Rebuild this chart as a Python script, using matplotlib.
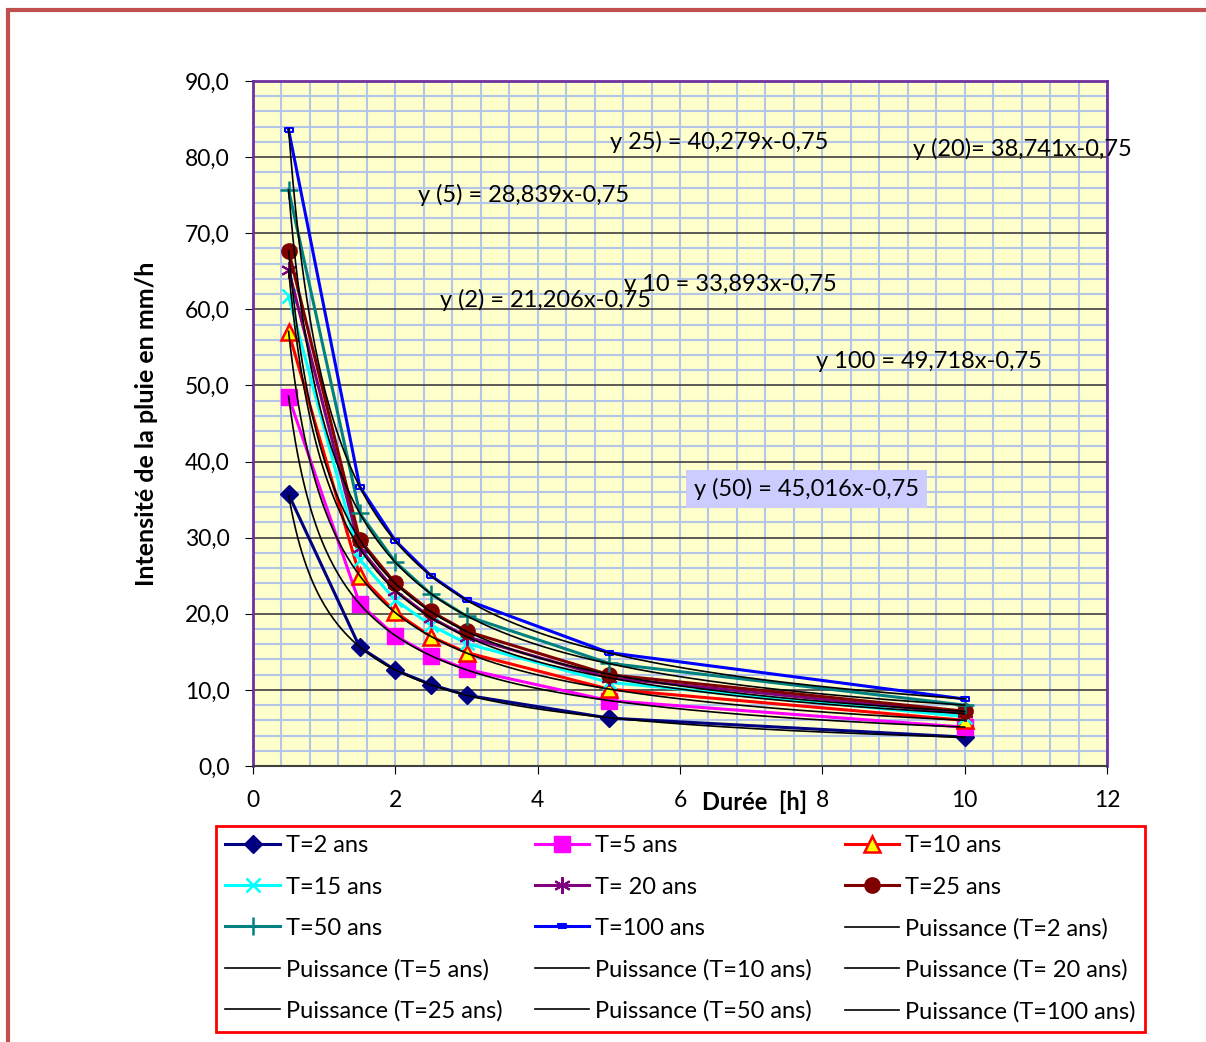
import numpy as np
import matplotlib.pyplot as plt
from matplotlib.patches import Rectangle
from matplotlib.path import Path
from matplotlib.ticker import MultipleLocator, FuncFormatter

plt.rcParams['font.family'] = ['Lato', 'DejaVu Sans']

# durations (h)
duree = [0.5, 1.5, 2, 2.5, 3, 5, 10]

# rain intensity (mm/h) per return period
T2 = [35.7, 15.6, 12.6, 10.7, 9.3, 6.3, 3.8]
T5 = [48.5, 21.3, 17.1, 14.5, 12.7, 8.6, 5.1]
T10 = [57.0, 25.0, 20.2, 17.0, 14.9, 10.1, 6.0]
T15 = [61.7, 27.1, 21.8, 18.5, 16.1, 11.0, 6.5]
T20 = [65.2, 28.6, 23.0, 19.5, 17.0, 11.6, 6.9]
T25 = [67.7, 29.7, 24.0, 20.3, 17.7, 12.0, 7.2]
T50 = [75.7, 33.2, 26.8, 22.6, 19.7, 13.5, 8.0]
T100 = [83.6, 36.7, 29.6, 25.0, 21.8, 14.9, 8.8]

labels = ['T=2 ans', 'T=5 ans', 'T=10 ans', 'T=15 ans', 'T= 20 ans',
          'T=25 ans', 'T=50 ans', 'T=100 ans']
fit_labels = ['Puissance (T=2 ans)', 'Puissance (T=5 ans)', 'Puissance (T=10 ans)',
              'Puissance (T= 20 ans)', 'Puissance (T=25 ans)', 'Puissance (T=50 ans)',
              'Puissance (T=100 ans)']

equations = ['y 25) = 40,279x-0,75', 'y (20)= 38,741x-0,75', 'y (5) = 28,839x-0,75',
             'y 10 = 33,893x-0,75', 'y (2) = 21,206x-0,75', 'y 100 = 49,718x-0,75',
             'y (50) = 45,016x-0,75']
eq_pos = [(5.02, 82.0), (9.27, 81.1), (2.32, 75.0), (5.21, 63.3), (2.63, 61.2),
          (7.91, 53.1), (6.2, 36.4)]

series = [T2, T5, T10, T15, T20, T25, T50, T100]
fit_series = [T2, T5, T10, T20, T25, T50, T100]

rect_marker = Path([(-1, -0.55), (1, -0.55), (1, 0.55), (-1, 0.55), (-1, -0.55)])
styles = [
    dict(color='#000080', marker='D', ms=9, mfc='#000080', mec='#000080'),
    dict(color='#FF00FF', marker='s', ms=11, mfc='#FF00FF', mec='#FF00FF'),
    dict(color='#FF0000', marker='^', ms=11, mfc='#FFFF00', mec='#FF0000', mew=1.8),
    dict(color='#00FFFF', marker='x', ms=10, mec='#00FFFF', mew=1.8),
    dict(color='#800080', marker=(6, 2, 0), ms=12, mec='#800080', mew=1.5),
    dict(color='#800000', marker='o', ms=11, mfc='#800000', mec='#800000'),
    dict(color='#008080', marker='+', ms=13, mec='#008080', mew=1.8),
    dict(color='#0000FF', marker=rect_marker, ms=6, mfc='none', mec='#0000FF', mew=1.5),
]

fig = plt.figure(figsize=(12.06, 10.42), dpi=100)
ax = fig.add_axes([253 / 1206, 1 - 766 / 1042, (1107 - 253) / 1206, (766 - 81) / 1042])
ax.set_facecolor('#FFFFCC')

handles = []
for s, lab, st in zip(series, labels, styles):
    h, = ax.plot(duree, s, lw=2.2, label=lab, zorder=3, **st)
    handles.append(h)

# power trendlines
xx = np.linspace(min(duree), max(duree), 300)
fit_handles = []
for s, lab in zip(fit_series, fit_labels):
    b, a = np.polyfit(np.log(duree), np.log(s), 1)
    h, = ax.plot(xx, np.exp(a) * xx ** b, color='black', lw=1.2, label=lab, zorder=4)
    fit_handles.append(h)

for txt, (x, y) in zip(equations, eq_pos):
    if txt.startswith('y (50)'):
        ax.text(x, y, txt, fontsize=17, va='center', ha='left', zorder=6,
                bbox=dict(boxstyle='square,pad=0.35', fc='#CCCCFF', ec='none'))
    else:
        ax.text(x, y, txt, fontsize=17, va='center', ha='left', zorder=6)

ax.set_xlim(0, 12)
ax.set_ylim(0, 90)
ax.xaxis.set_major_locator(MultipleLocator(2))
ax.xaxis.set_minor_locator(MultipleLocator(0.4))
ax.yaxis.set_major_locator(MultipleLocator(10))
ax.yaxis.set_minor_locator(MultipleLocator(2))
ax.yaxis.set_major_formatter(FuncFormatter(lambda v, p: ('%.1f' % v).replace('.', ',')))
ax.grid(which='minor', color='#B4C6E7', lw=1.5, zorder=0)
ax.grid(which='major', axis='x', color='#B4C6E7', lw=1.5, zorder=0)
ax.grid(which='major', axis='y', color='#404040', lw=1.2, zorder=1)
ax.set_axisbelow(True)
ax.tick_params(which='minor', length=0)
ax.tick_params(which='major', length=6, labelsize=16.5, direction='out')
ax.tick_params(axis='y', pad=11)
ax.tick_params(axis='x', pad=11)
for side in ['top', 'right', 'left']:
    ax.spines[side].set_color('#7030A0')
    ax.spines[side].set_linewidth(2)
ax.spines['bottom'].set_color('#404040')
ax.spines['bottom'].set_linewidth(1.5)

ax.set_ylabel('Intensité de la pluie en mm/h', fontsize=18, fontweight='bold')
ax.yaxis.set_label_coords((158 - 253) / 854, 0.5)
ax.text(7.05, -4.8, 'Durée  [h]', fontsize=17, fontweight='bold', ha='center', va='center',
        clip_on=False)

allh = handles + fit_handles
order = [0, 3, 6, 9, 12, 1, 4, 7, 10, 13, 2, 5, 8, 11, 14]
leg = fig.legend([allh[i] for i in order], [allh[i].get_label() for i in order],
                 loc='upper left', ncol=3, mode='expand', fontsize=17,
                 bbox_to_anchor=(216 / 1206, 1 - 1034 / 1042, (1145 - 216) / 1206, (1034 - 826) / 1042),
                 fancybox=False, edgecolor='#FF0000', framealpha=1, handlelength=2.3,
                 handletextpad=0.25, labelspacing=0.85, borderpad=0.4, borderaxespad=0)
leg.get_frame().set_linewidth(2)

fig.patches.append(Rectangle((8 / 1206, -0.1), 1.2, 1.1 - 10 / 1042, transform=fig.transFigure,
                             fill=False, edgecolor='#C0504D', lw=3, clip_on=False))

fig.savefig('out.png', dpi=100)
